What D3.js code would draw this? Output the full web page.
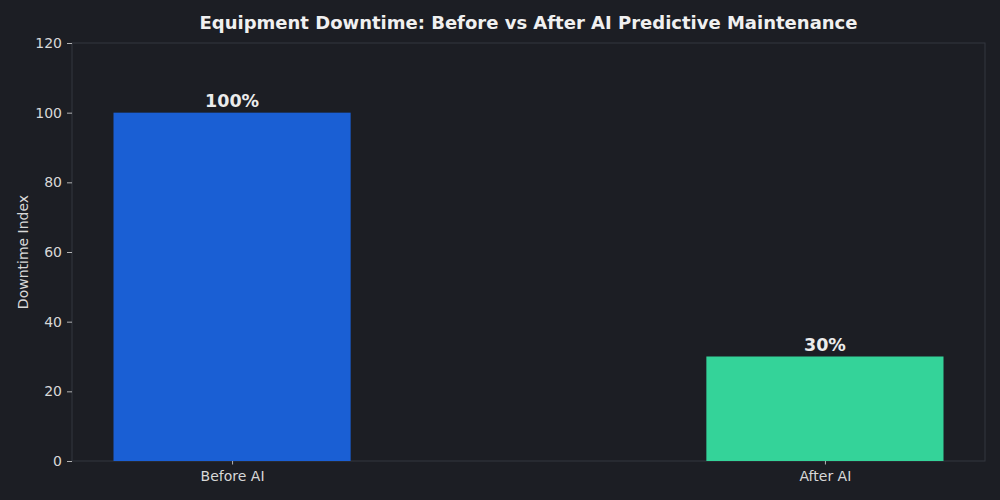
<!DOCTYPE html>
<html>
<head>
<meta charset="utf-8">
<script src="https://cdn.jsdelivr.net/npm/d3@7"></script>
<style>
  body { margin: 0; background: #1c1e24; }
  svg { display: block; font-family: "DejaVu Sans", sans-serif; }
</style>
</head>
<body>
<div id="chart"></div>
<script>
const categories = ['Before AI', 'After AI'];
const values = [100, 30];
const barLabels = ['100%', '30%'];
const barColors = ['#1a5fd4', '#34d399'];
const yTicks = [0, 20, 40, 60, 80, 100, 120];

const WIDTH = 1000;
const HEIGHT = 500;
const MARGIN = {top: 43, right: 15, bottom: 39, left: 72};

const width = WIDTH - MARGIN.left - MARGIN.right;
const height = HEIGHT - MARGIN.top - MARGIN.bottom;

const svg = d3.select('#chart').append('svg')
  .attr('width', WIDTH)
  .attr('height', HEIGHT);

svg.append('rect')
  .attr('width', WIDTH)
  .attr('height', HEIGHT)
  .attr('fill', '#1c1e24');

const g = svg.append('g')
  .attr('transform', `translate(${MARGIN.left}, ${MARGIN.top})`);

// categorical positions 0..n-1, bar width 0.4, 5% margins
const barWidth = 0.4;
const lo = -barWidth / 2, hi = categories.length - 1 + barWidth / 2;
const pad = (hi - lo) * 0.05;
const xScale = d3.scaleLinear()
  .domain([lo - pad, hi + pad])
  .range([0, width]);

const yScale = d3.scaleLinear()
  .domain([0, 120])
  .range([height, 0]);

// frame
g.append('rect')
  .attr('width', width)
  .attr('height', height)
  .attr('fill', 'none')
  .attr('stroke', '#33363e')
  .attr('stroke-width', 1);

// bars
g.selectAll('rect.bar')
  .data(values)
  .join('rect')
  .attr('class', 'bar')
  .attr('x', (d, i) => xScale(i - barWidth / 2))
  .attr('width', (d, i) => xScale(i + barWidth / 2) - xScale(i - barWidth / 2))
  .attr('y', d => yScale(d))
  .attr('height', d => yScale(0) - yScale(d))
  .attr('fill', (d, i) => barColors[i]);

// bar labels
g.selectAll('text.bar-label')
  .data(values)
  .join('text')
  .attr('class', 'bar-label')
  .attr('x', (d, i) => xScale(i))
  .attr('y', d => yScale(d) - 5.5)
  .attr('text-anchor', 'middle')
  .attr('fill', '#ececec')
  .attr('font-size', '17.5px')
  .attr('font-weight', 'bold')
  .text((d, i) => barLabels[i]);

// axes
const xAxis = d3.axisBottom(xScale)
  .tickValues(d3.range(categories.length))
  .tickFormat(i => categories[i])
  .tickSize(3.5)
  .tickPadding(6.5);

const xg = g.append('g')
  .attr('class', 'x axis')
  .attr('transform', `translate(0, ${height})`)
  .call(xAxis);

const yAxis = d3.axisLeft(yScale)
  .tickValues(yTicks)
  .tickSize(5)
  .tickPadding(5);

const yg = g.append('g')
  .attr('class', 'y axis')
  .call(yAxis);

[xg, yg].forEach(a => {
  a.select('.domain').remove();
  a.selectAll('.tick line').attr('stroke', '#d8d8d8').attr('stroke-width', 0.8);
  a.selectAll('.tick text')
    .attr('fill', '#d8d8d8')
    .attr('font-size', '14px')
    .attr('font-family', '"DejaVu Sans", sans-serif');
});

// y label
svg.append('text')
  .attr('transform', `translate(27.5, ${MARGIN.top + height / 2}) rotate(-90)`)
  .attr('text-anchor', 'middle')
  .attr('fill', '#d8d8d8')
  .attr('font-size', '14px')
  .text('Downtime Index');

// title
svg.append('text')
  .attr('x', MARGIN.left + width / 2)
  .attr('y', 29)
  .attr('text-anchor', 'middle')
  .attr('fill', '#f0f0f0')
  .attr('font-size', '18px')
  .attr('font-weight', 'bold')
  .text('Equipment Downtime: Before vs After AI Predictive Maintenance');
</script>
</body>
</html>
